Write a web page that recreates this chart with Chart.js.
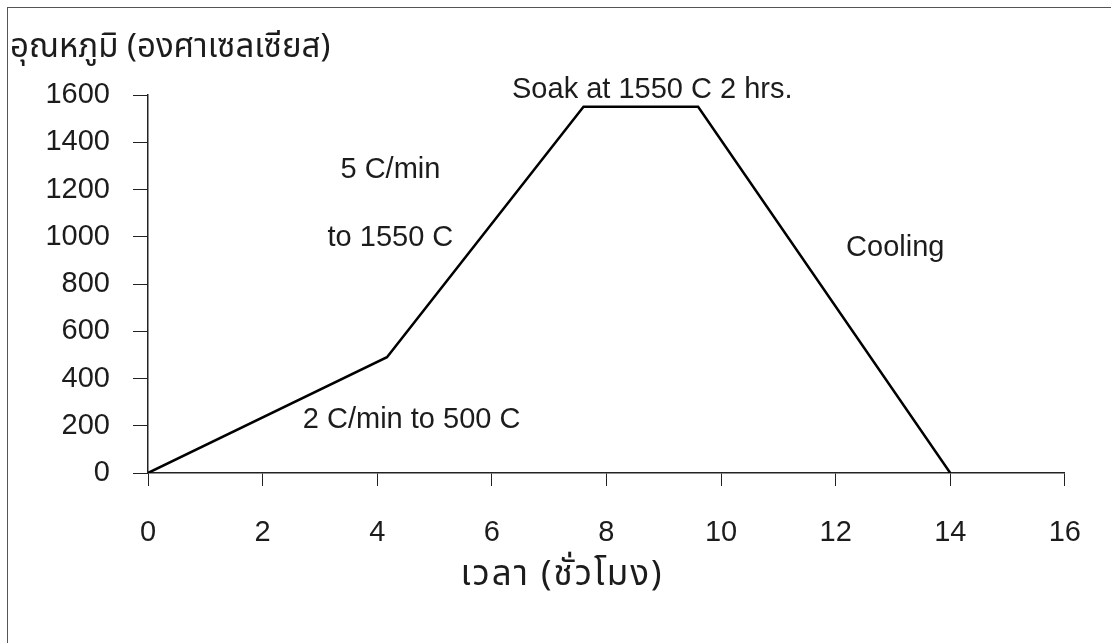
<!DOCTYPE html>
<html>
<head>
<meta charset="utf-8">
<script src="https://cdn.jsdelivr.net/npm/chart.js@4.4.1/dist/chart.umd.min.js"></script>
<style>
    html, body { margin: 0; padding: 0; background: #fff; overflow: hidden; }
    #wrap { position: relative; width: 1111px; height: 643px; }
    #frame {
        position: absolute; left: 7px; top: 7px; width: 1200px; height: 700px;
        border-left: 1px solid #555; border-top: 1px solid #555; pointer-events: none;
    }
</style>
</head>
<body>
<div id="wrap">
    <canvas id="firingChart" width="1111" height="643"></canvas>
    <div id="frame"></div>
</div>
<script>
// Firing schedule: time (hours) vs temperature (degrees C)
const timeHours = [0, 4.17, 7.6, 9.6, 14];
const tempC = [0, 490, 1550, 1550, 0];
const xTicks = [0, 2, 4, 6, 8, 10, 12, 14, 16];
const yTicks = [0, 200, 400, 600, 800, 1000, 1200, 1400, 1600];

const yTitle = 'อุณหภูมิ (องศาเซลเซียส)';
const xTitle = 'เวลา (ชั่วโมง)';

// text labels placed in data units
const notes = [
    { text: 'Soak at 1550 C 2 hrs.', x: 8.8, y: 1620 },
    { text: '5 C/min', x: 4.23, y: 1283 },
    { text: 'to 1550 C', x: 4.23, y: 995 },
    { text: '2 C/min to 500 C', x: 4.6, y: 224 },
    { text: 'Cooling', x: 13.04, y: 952 }
];

const FONT = '"Liberation Sans", Arial, sans-serif';
const THAI_FONT = '"Noto Sans Thai", "Noto Sans", sans-serif';
const INK = '#1c1c1c';

const labelsPlugin = {
    id: 'labels',
    afterDatasetsDraw(chart) {
        const ctx = chart.ctx;
        const xs = chart.scales.x;
        const ys = chart.scales.y;
        ctx.save();
        ctx.fillStyle = INK;
        ctx.font = '29px ' + FONT;
        ctx.textAlign = 'center';
        ctx.textBaseline = 'middle';
        notes.forEach(n => {
            ctx.fillText(n.text, xs.getPixelForValue(n.x), ys.getPixelForValue(n.y));
        });
        // axis titles (y title sits horizontally at the top-left)
        ctx.font = '33px ' + THAI_FONT;
        ctx.textAlign = 'left';
        ctx.fillText(yTitle, 10, 50);
        ctx.font = '35px ' + THAI_FONT;
        ctx.letterSpacing = '2px';
        ctx.textAlign = 'center';
        ctx.fillText(xTitle, 562, 578);
        ctx.letterSpacing = '0px';
        ctx.restore();
    }
};

const points = timeHours.map((t, i) => ({ x: t, y: tempC[i] }));

new Chart(document.getElementById('firingChart').getContext('2d'), {
    type: 'line',
    data: {
        datasets: [{
            data: points,
            borderColor: '#000',
            borderWidth: 2.5,
            pointRadius: 0,
            tension: 0,
            fill: false
        }]
    },
    options: {
        responsive: false,
        animation: false,
        layout: { padding: { top: 95, right: 46, left: 0, bottom: 0 } },
        plugins: {
            legend: { display: false },
            tooltip: { enabled: false }
        },
        scales: {
            x: {
                type: 'linear',
                min: 0,
                max: 16,
                afterBuildTicks: s => { s.ticks = xTicks.map(v => ({ value: v })); },
                afterFit: s => { s.height = 170; },
                grid: { drawOnChartArea: false, drawTicks: true, tickLength: 13, color: '#222', lineWidth: 1 },
                border: { display: true, color: '#222', width: 1.5 },
                ticks: { color: INK, font: { family: FONT, size: 29 }, padding: 30, maxRotation: 0, callback: v => String(v) }
            },
            y: {
                type: 'linear',
                min: 0,
                max: 1600,
                afterBuildTicks: s => { s.ticks = yTicks.map(v => ({ value: v })); },
                afterFit: s => { s.width = 148; },
                grid: { drawOnChartArea: false, drawTicks: true, tickLength: 15, color: '#222', lineWidth: 1 },
                border: { display: true, color: '#222', width: 1.5 },
                ticks: { color: INK, font: { family: FONT, size: 29 }, padding: 23, callback: v => String(v) }
            }
        }
    },
    plugins: [labelsPlugin]
});
</script>
</body>
</html>
